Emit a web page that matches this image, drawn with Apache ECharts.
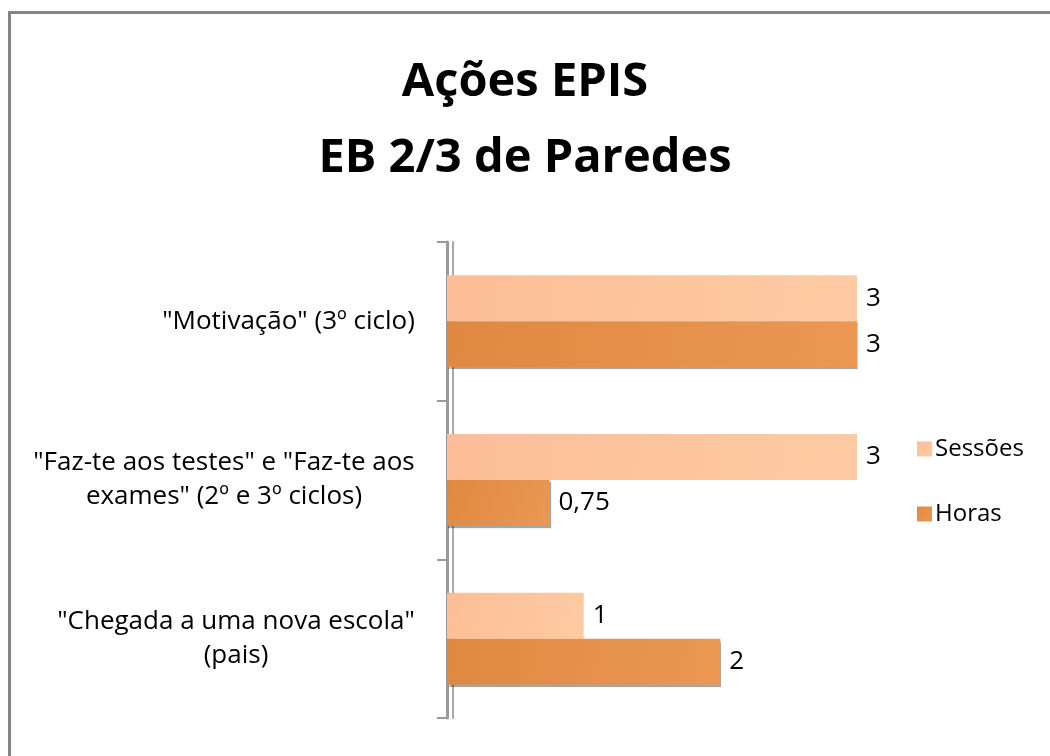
<!DOCTYPE html>
<html>
<head>
<meta charset="utf-8">
<script src="https://cdn.jsdelivr.net/npm/echarts@6/dist/echarts.min.js"></script>
<style>
  html, body { margin: 0; padding: 0; background: #fff; }
  #main { width: 1050px; height: 756px; }
</style>
</head>
<body>
<div id="main"></div>
<script>
// dados do gráfico
const categorias = [
  '"Motivação" (3º ciclo)',
  '"Faz-te aos testes" e "Faz-te aos\nexames" (2º e 3º ciclos)',
  '"Chegada a uma nova escola"\n(pais)'
];
const sessoes = [3, 3, 1];
const horas = [3, 0.75, 2];
const nomesSeries = ['Sessões', 'Horas'];

const fonte = '"Open Sans", sans-serif';
const tam = 26;

const chart = echarts.init(document.getElementById('main'));

// rótulo de valor com vírgula decimal
function fmt(v) {
  return String(v).replace('.', ',');
}

// largura da linha mais longa, para centrar as linhas do rótulo
const ctx = document.createElement('canvas').getContext('2d');
ctx.font = tam + 'px ' + fonte;
function largura(txt) {
  return Math.max.apply(null, txt.split('\n').map(function (l) { return ctx.measureText(l).width; }));
}

const richLabels = {};
categorias.forEach(function (c, i) {
  richLabels['c' + i] = { fontFamily: fonte, fontSize: tam, color: '#000', lineHeight: 34, align: 'center', width: Math.ceil(largura(c)) };
});

chart.setOption({
  animation: false,
  backgroundColor: '#fff',
  title: {
    text: 'Ações EPIS\nEB 2/3 de Paredes',
    left: 'center',
    top: 40,
    textStyle: {
      fontFamily: fonte,
      fontWeight: 'bold',
      fontSize: 47,
      lineHeight: 76,
      color: '#000'
    }
  },
  legend: {
    orient: 'vertical',
    left: 912,
    top: 432,
    itemWidth: 15,
    itemHeight: 15,
    itemGap: 41,
    icon: 'rect',
    textStyle: { fontFamily: fonte, fontSize: 24, color: '#000', padding: [0, 0, 0, -2] },
    data: nomesSeries
  },
  grid: {
    left: 447,
    top: 242,
    width: 410,
    height: 476,
    containLabel: false
  },
  xAxis: {
    type: 'value',
    min: 0,
    max: 3,
    show: false
  },
  yAxis: [
    {
      type: 'category',
      inverse: true,
      data: categorias,
      position: 'left',
      offset: 4,
      axisLine: { lineStyle: { color: '#9a9a9a', width: 3 } },
      axisTick: { show: true, length: 10, lineStyle: { color: '#9a9a9a', width: 2 } },
      axisLabel: {
        margin: 28,
        fontFamily: fonte,
        fontSize: tam,
        color: '#000',
        lineHeight: 34,
        align: 'right',
        formatter: function (v, i) {
          return v.split('\n').map(function (l) { return '{c' + i + '|' + l + '}'; }).join('\n');
        },
        rich: richLabels
      }
    },
    {
      // segunda linha da parede 3D
      type: 'category',
      inverse: true,
      data: categorias,
      position: 'left',
      offset: -6,
      axisLine: { lineStyle: { color: '#a8a8a8', width: 2 } },
      axisTick: { show: false },
      axisLabel: { show: false }
    }
  ],
  series: [
    {
      name: nomesSeries[0],
      type: 'bar',
      data: sessoes,
      barWidth: 46,
      barGap: '0%',
      itemStyle: {
        color: new echarts.graphic.LinearGradient(0, 0, 1, 1, [
          { offset: 0, color: '#FDBE97' },
          { offset: 1, color: '#FDCBA3' }
        ])
      },
      label: {
        show: true,
        position: 'right',
        distance: 9,
        fontFamily: fonte,
        fontSize: tam,
        color: '#000',
        formatter: function (p) { return fmt(p.value); }
      }
    },
    {
      name: nomesSeries[1],
      type: 'bar',
      data: horas,
      barWidth: 46,
      itemStyle: {
        color: new echarts.graphic.LinearGradient(0, 0, 1, 1, [
          { offset: 0, color: '#DF8842' },
          { offset: 1, color: '#EC9852' }
        ]),
        shadowColor: 'rgba(0,0,0,0.35)',
        shadowOffsetY: 2,
        shadowOffsetX: 1,
        shadowBlur: 1
      },
      label: {
        show: true,
        position: 'right',
        distance: 9,
        fontFamily: fonte,
        fontSize: tam,
        color: '#000',
        formatter: function (p) { return fmt(p.value); }
      }
    }
  ],
  graphic: [
    // moldura cinzenta (só lados esquerdo e superior visíveis)
    { type: 'rect', shape: { x: 8, y: 11, width: 1042, height: 3 }, style: { fill: '#858585' } },
    { type: 'rect', shape: { x: 8, y: 11, width: 3, height: 745 }, style: { fill: '#858585' } }
  ]
});
</script>
</body>
</html>
